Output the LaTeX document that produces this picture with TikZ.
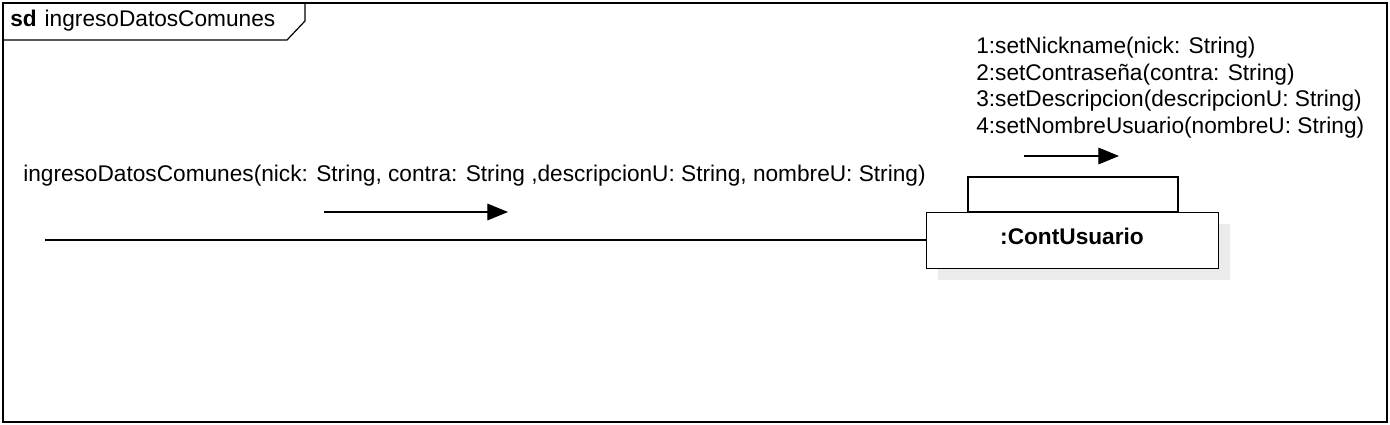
\documentclass[tikz,border=0pt]{standalone}
\usepackage{fontspec}
\setmainfont{Liberation Sans}
\usetikzlibrary{arrows.meta}
\begin{document}
\begin{tikzpicture}[x=0.75pt,y=-0.75pt,
  line/.style={draw=black,line width=0.9pt},
  msgarrow/.style={line,-{Triangle[length=15.5pt,width=12.5pt]}},
  lbl/.style={font=\fontsize{17}{20}\selectfont,inner sep=0pt,anchor=west},
  objbox/.style={draw=black,line width=0.9pt,fill=white,minimum width=219pt,minimum height=42pt,inner sep=0pt}]
\useasboundingbox (0,0) rectangle (1390,425);
% frame
\draw[line] (3,3) rectangle (1387,422);
\draw[line] (3,40) -- (287,40) -- (305,21) -- (305,3);
\node[lbl] (sd) at (10,21) {\textbf{sd}\hspace{6pt}ingresoDatosComunes};
% object with shadow and tab
\fill[black!8] (938,224) rectangle (1230,280);
\draw[line,fill=white] (968,177) rectangle (1178,212);
\node[objbox,anchor=north west] (obj) at (926,212) {};
\node[font=\bfseries\fontsize{17}{20}\selectfont,inner sep=0pt] (objlbl) at (1072,236) {:ContUsuario};
% lifeline
\coordinate (start) at (45,240);
\draw[line] (start) -- (obj.west |- start);
% incoming message
\node[lbl] (msg) at (23,176) {ingresoDatosComunes(nick: String, contra: String ,descripcionU: String, nombreU: String)};
\coordinate (a1s) at (324,212);
\coordinate (a1e) at (508,212);
\draw[msgarrow] (a1s) -- (a1e);
% self messages
\node[lbl] (m1) at (976,48) {1:setNickname(nick: String)};
\node[lbl] (m2) at (976,74.5) {2:setContraseña(contra: String)};
\node[lbl] (m3) at (976,101) {3:setDescripcion(descripcionU: String)};
\node[lbl] (m4) at (976,127.5) {4:setNombreUsuario(nombreU: String)};
\coordinate (a2s) at (1024,156);
\coordinate (a2e) at (1119,156);
\draw[msgarrow] (a2s) -- (a2e);
\end{tikzpicture}
\end{document}
